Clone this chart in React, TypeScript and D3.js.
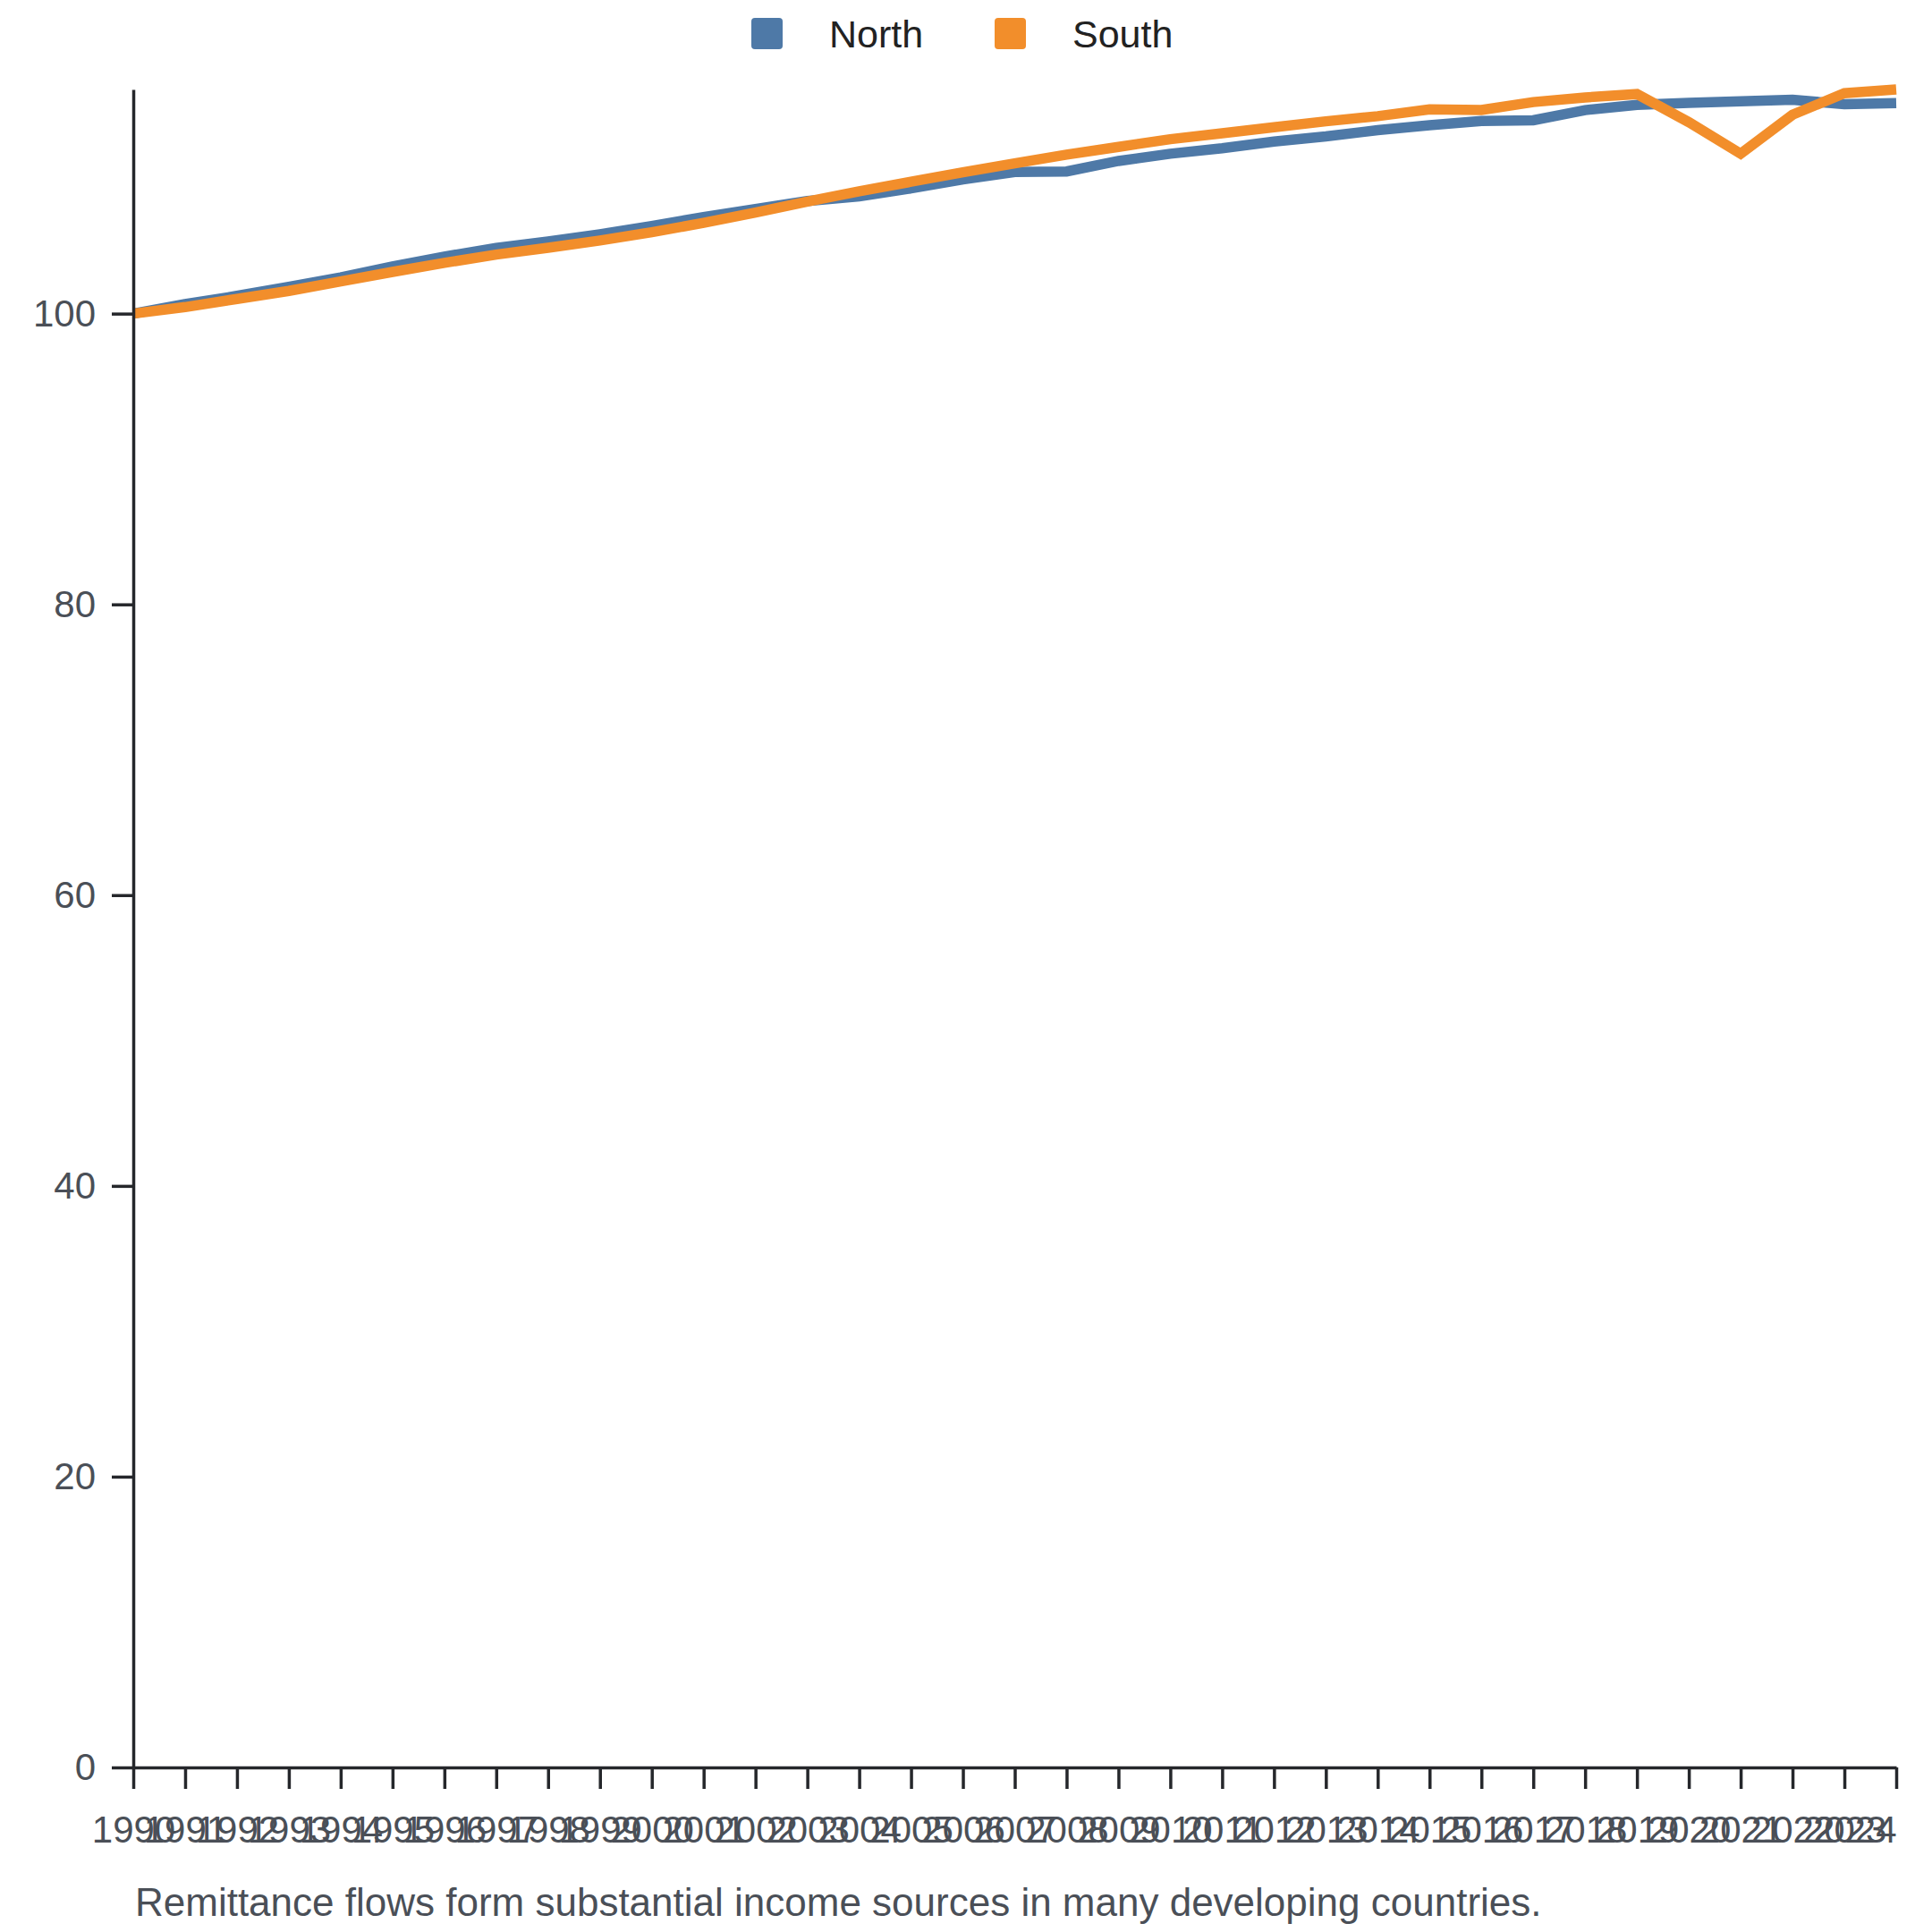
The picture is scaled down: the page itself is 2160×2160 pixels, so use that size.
import React, { useEffect, useRef } from 'react';
import * as d3 from 'd3';

const years = [
  1990, 1991, 1992, 1993, 1994, 1995, 1996, 1997, 1998, 1999,
  2000, 2001, 2002, 2003, 2004, 2005, 2006, 2007, 2008, 2009,
  2010, 2011, 2012, 2013, 2014, 2015, 2016, 2017, 2018, 2019,
  2020, 2021, 2022, 2023, 2024,
];

const north = [
  100, 100.66, 101.22, 101.84, 102.49, 103.24, 103.92, 104.52, 104.97, 105.46,
  106.03, 106.65, 107.2, 107.75, 108.06, 108.61, 109.23, 109.74, 109.78, 110.5,
  111.0, 111.38, 111.84, 112.19, 112.62, 112.96, 113.25, 113.3, 114.0, 114.36,
  114.5, 114.6, 114.71, 114.4, 114.48,
];

const south = [
  100, 100.45, 101.01, 101.56, 102.22, 102.87, 103.49, 104.06, 104.53, 105.03,
  105.6, 106.24, 106.95, 107.7, 108.41, 109.07, 109.72, 110.34, 110.94, 111.47,
  112.0, 112.41, 112.82, 113.23, 113.58, 114.05, 114.01, 114.55, 114.87, 115.1,
  113.17, 111.0, 113.68, 115.16, 115.42,
];

const seriesNames = ['North', 'South'];
const seriesColors = ['#4e79a7', '#f28e2b'];
const caption = 'Remittance flows form substantial income sources in many developing countries.';

export default function App() {
  const svgRef = useRef<SVGSVGElement>(null);

  useEffect(() => {
    if (!svgRef.current) return;
    document.body.style.margin = '0';

    const svg = d3.select(svgRef.current);
    svg.selectAll('*').remove();

    const W = 2160;
    const H = 2160;
    const margin = { top: 100, right: 40, bottom: 184, left: 149 };
    const font = '"Liberation Sans", Arial, Helvetica, sans-serif';
    const labelColor = '#4a4f57';
    const axisColor = '#25272b';

    svg.attr('width', W).attr('height', H).style('font-family', font);

    const x = d3.scalePoint<number>()
      .domain(years)
      .range([margin.left, W - margin.right]);

    const y = d3.scaleLinear()
      .domain([0, d3.max([...north, ...south]) || 0])
      .range([H - margin.bottom, margin.top]);

    // lines
    const line = d3.line<number>()
      .x((_, i) => x(years[i]) as number)
      .y(d => y(d));

    [north, south].forEach((vals, k) => {
      svg.append('path')
        .datum(vals)
        .attr('fill', 'none')
        .attr('stroke', seriesColors[k])
        .attr('stroke-width', 11.5)
        .attr('stroke-linejoin', 'miter')
        .attr('d', line);
    });

    // x axis
    const gx = svg.append('g')
      .attr('transform', `translate(0,${H - margin.bottom})`)
      .call(d3.axisBottom(x).tickSize(24).tickSizeOuter(0).tickPadding(30));
    gx.select('.domain').attr('stroke', axisColor).attr('stroke-width', 3.5);
    gx.selectAll('.tick line').attr('stroke', axisColor).attr('stroke-width', 3.5);
    gx.selectAll<SVGTextElement, number>('.tick text')
      .attr('fill', labelColor)
      .style('font-size', '42px')
      .style('font-family', font)
      .attr('text-anchor', d => (d === years[years.length - 1] ? 'end' : 'middle'));

    // y axis
    const gy = svg.append('g')
      .attr('transform', `translate(${margin.left},0)`)
      .call(d3.axisLeft(y).ticks(5).tickSize(24).tickSizeOuter(0).tickPadding(18));
    gy.select('.domain').attr('stroke', axisColor).attr('stroke-width', 3.5);
    gy.selectAll('.tick line').attr('stroke', axisColor).attr('stroke-width', 3.5);
    gy.selectAll('.tick text')
      .attr('fill', labelColor)
      .style('font-size', '42px')
      .style('font-family', font);

    // legend
    const legend = svg.append('g').attr('transform', 'translate(840,20)');
    seriesNames.forEach((name, i) => {
      const item = legend.append('g').attr('transform', `translate(${i * 272},0)`);
      item.append('rect')
        .attr('width', 35)
        .attr('height', 35)
        .attr('rx', 4)
        .attr('fill', seriesColors[i]);
      item.append('text')
        .attr('x', 87)
        .attr('y', 33)
        .attr('fill', '#222')
        .style('font-size', '43px')
        .text(name);
    });

    // caption
    svg.append('text')
      .attr('x', 151)
      .attr('y', 2142)
      .attr('fill', labelColor)
      .style('font-size', '44px')
      .text(caption);
  }, []);

  return <svg ref={svgRef}></svg>;
}
